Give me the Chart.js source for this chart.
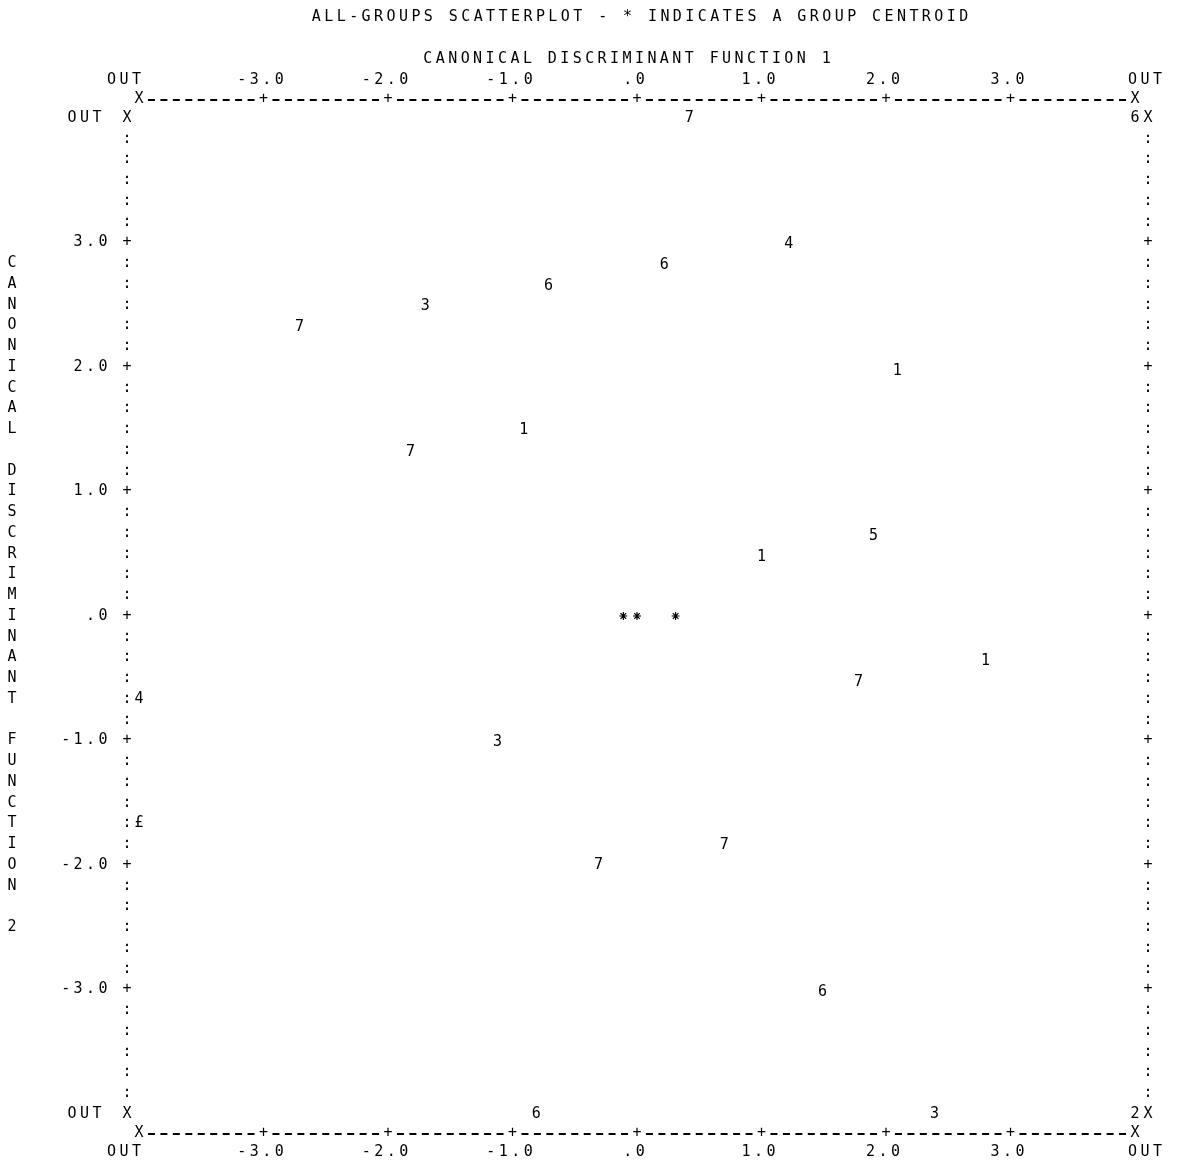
<!DOCTYPE html>
<html>
<head>
<meta charset="utf-8">
<script src="https://cdn.jsdelivr.net/npm/chart.js@4.4.1/dist/chart.umd.min.js"></script>
<style>
  body { margin: 0; background: #fff; }
  canvas { display: block; }
</style>
</head>
<body>
<canvas id="plot" width="1178" height="1170"></canvas>
<script>
// group number printed at each case position
const caseLabels = ['7', '6', '4', '6', '6', '3', '7', '1', '1', '7', '5', '1',
                    '1', '7', '4', '3', '£', '7', '7', '6', '6', '3', '2'];
const caseX = [0.42, 4.0, 1.22, 0.22, -0.71, -1.70, -2.71, 2.09, -0.91, -1.82, 1.90, 1.00,
               2.80, 1.78, -4.0, -1.12, -4.0, 0.70, -0.31, 1.49, -0.81, 2.39, 4.0];
const caseY = [4.0, 4.0, 2.99, 2.82, 2.65, 2.49, 2.32, 1.97, 1.49, 1.32, 0.64, 0.47,
               -0.36, -0.53, -0.67, -1.01, -1.66, -1.84, -2.00, -3.02, -4.0, -4.0, -4.0];

// group centroids (*)
const centroidX = [-0.11, 0.0, 0.31];
const centroidY = [0, 0, 0];

// tick labels
const tickValues = [-4, -3, -2, -1, 0, 1, 2, 3, 4];
const tickLabels = ['OUT', '-3.0', '-2.0', '-1.0', '.0', '1.0', '2.0', '3.0', 'OUT'];

const titleText = 'ALL-GROUPS SCATTERPLOT - * INDICATES A GROUP CENTROID';
const xTitle = 'CANONICAL DISCRIMINANT FUNCTION 1';
const yTitle = 'CANONICAL DISCRIMINANT FUNCTION 2';

const FONT = '15px "DejaVu Sans Mono", monospace';
const COL = 12.45;   // printer column width
const ROW = 20.75;   // printer row height

function chars(ctx, str, x0, y, step, vertical) {
    // one character per printer cell
    for (let i = 0; i < str.length; i++) {
        if (str[i] === ' ') continue;
        if (vertical) ctx.fillText(str[i], x0, y + i * step);
        else ctx.fillText(str[i], x0 + i * step, y);
    }
}
function centered(ctx, str, cx, y) {
    chars(ctx, str, cx - (str.length - 1) / 2 * COL, y, COL, false);
}
function rightAligned(ctx, str, lastX, y) {
    chars(ctx, str, lastX - (str.length - 1) * COL, y, COL, false);
}

const printerPlot = {
    id: 'printerPlot',
    afterDatasetsDraw(chart) {
        const ctx = chart.ctx;
        const xs = chart.scales.x, ys = chart.scales.y;
        const x0 = xs.getPixelForValue(-4), x1 = xs.getPixelForValue(4);
        const yTop = ys.getPixelForValue(4), yBot = ys.getPixelForValue(-4);
        const frameTop = yTop - 19, frameBot = yBot + 19;
        const borderL = x0 - 12, borderR = x1 + 13;

        ctx.save();
        ctx.fillStyle = '#000';
        ctx.strokeStyle = '#000';
        ctx.font = FONT;
        ctx.textAlign = 'center';
        ctx.textBaseline = 'middle';

        // case labels at their positions
        const meta = chart.getDatasetMeta(0);
        meta.data.forEach((pt, i) => {
            ctx.fillText(caseLabels[i], pt.x, pt.y);
        });

        // titles
        centered(ctx, titleText, 640, 17);
        centered(ctx, xTitle, 627, 59);
        chars(ctx, yTitle, 12, ys.getPixelForValue(17 / 6), ROW, true);

        // x tick labels top and bottom
        tickValues.forEach((v, i) => {
            let px = xs.getPixelForValue(v);
            if (v === -4) px = borderL;
            if (v === 4) px = borderR;
            centered(ctx, tickLabels[i], px - 3, frameTop - 19);
            centered(ctx, tickLabels[i], px - 3, frameBot + 19);
        });

        // y tick labels
        tickValues.forEach((v, i) => {
            const py = ys.getPixelForValue(v);
            const s = tickLabels[i];
            rightAligned(ctx, s, s === 'OUT' ? 97 : 103, py);
        });

        // top and bottom frame lines
        ctx.lineWidth = 2;
        const nCols = Math.round((x1 - x0) / COL);
        const step = (x1 - x0) / nCols;
        [frameTop, frameBot].forEach(fy => {
            for (let c = 0; c <= nCols; c++) {
                const px = x0 + c * step;
                if (c === 0 || c === nCols) ctx.fillText('X', px, fy);
                else if (c % 10 === 0) ctx.fillText('+', px, fy);
                else {
                    ctx.beginPath();
                    ctx.moveTo(px - 3.5, fy + 1);
                    ctx.lineTo(px + 3.5, fy + 1);
                    ctx.stroke();
                }
            }
        });

        // left and right border columns
        const nRows = Math.round((yBot - yTop) / ROW);
        const rstep = (yBot - yTop) / nRows;
        [borderL, borderR].forEach(bx => {
            for (let r = 0; r <= nRows; r++) {
                const py = yTop + r * rstep;
                let ch = ':';
                if (r === 0 || r === nRows) ch = 'X';
                else if (r % 6 === 0) ch = '+';
                ctx.fillText(ch, bx, py);
            }
        });
        ctx.restore();
    }
};

const ctx = document.getElementById('plot');
new Chart(ctx, {
    type: 'scatter',
    data: {
        datasets: [
            {
                label: 'cases',
                data: caseX.map((x, i) => ({ x: x, y: caseY[i] })),
                pointRadius: 0,
                pointHoverRadius: 0
            },
            {
                label: 'centroids',
                data: centroidX.map((x, i) => ({ x: x, y: centroidY[i] })),
                pointStyle: 'star',
                pointRadius: 4,
                borderColor: '#000',
                backgroundColor: '#000',
                borderWidth: 1.2
            }
        ]
    },
    options: {
        responsive: false,
        animation: false,
        events: [],
        layout: {
            padding: { left: 139, right: 43, top: 118, bottom: 56 }
        },
        scales: {
            x: { type: 'linear', min: -4, max: 4, display: false },
            y: { type: 'linear', min: -4, max: 4, display: false }
        },
        plugins: {
            legend: { display: false },
            tooltip: { enabled: false }
        }
    },
    plugins: [printerPlot]
});
</script>
</body>
</html>
